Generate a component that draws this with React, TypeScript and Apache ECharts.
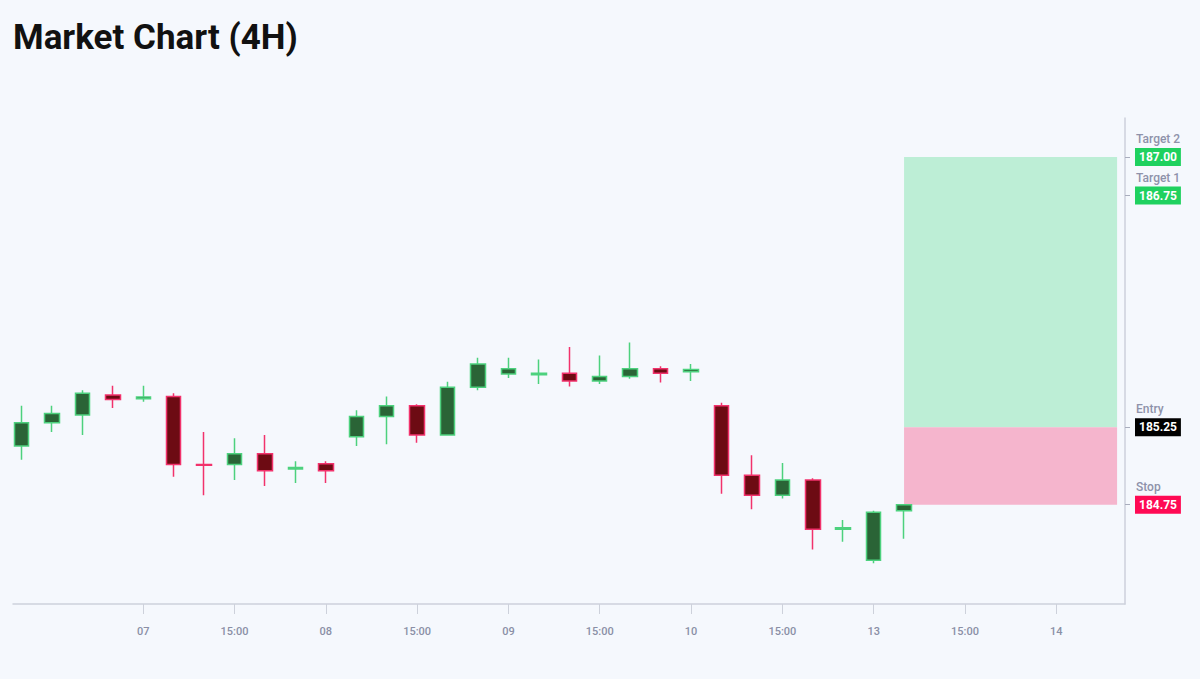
import React, { useEffect, useRef } from "react";
import * as echarts from "echarts";

// 4H candles (index = candle slot, weekend gap removed)
const opens = [185.13, 185.28, 185.33, 185.46, 185.435, 185.45, 185.01, 185.01, 185.08, 184.98, 185.015, 185.19, 185.32, 185.39, 185.2, 185.51, 185.595, 185.59, 185.6, 185.55, 185.58, 185.63, 185.61, 185.39, 184.94, 184.81, 184.91, 184.59, 184.39, 184.71];
const closes = [185.28, 185.34, 185.47, 185.43, 185.446, 185.01, 185.005, 185.08, 184.97, 184.99, 184.97, 185.32, 185.39, 185.2, 185.51, 185.66, 185.63, 185.6, 185.55, 185.58, 185.63, 185.6, 185.625, 184.94, 184.81, 184.91, 184.59, 184.6, 184.7, 184.75];
const lows = [185.04, 185.22, 185.2, 185.375, 185.416, 184.93, 184.81, 184.91, 184.87, 184.89, 184.89, 185.13, 185.14, 185.15, 185.2, 185.49, 185.57, 185.53, 185.515, 185.53, 185.565, 185.54, 185.55, 184.82, 184.72, 184.79, 184.46, 184.51, 184.37, 184.53];
const highs = [185.39, 185.39, 185.49, 185.52, 185.52, 185.47, 185.22, 185.18, 185.2, 185.03, 185.03, 185.36, 185.45, 185.4, 185.545, 185.7, 185.7, 185.69, 185.77, 185.715, 185.8, 185.645, 185.66, 185.41, 185.07, 185.02, 184.92, 184.65, 184.71, 184.75];

const tickIndex = [4, 7, 10, 13, 16, 19, 22, 25, 28, 31, 34];
const tickLabels = ["07", "15:00", "08", "15:00", "09", "15:00", "10", "15:00", "13", "15:00", "14"];

const levelNames = ["Stop", "Entry", "Target 1", "Target 2"];
const levelValues = [184.75, 185.25, 186.75, 187.0];
const levelColors = ["#ff0a54", "#000000", "#1fd15f", "#1fd15f"];

const zoneStart = 29;
const zoneEnd = 36;

const yMin = 184.107;
const yMax = 187.252;

export default function App() {
  const ref = useRef<HTMLDivElement>(null);

  useEffect(() => {
    document.body.style.margin = "0";
    const chart = echarts.init(ref.current!, null, { renderer: "svg" });
    const data = opens.map((o, i) => [i, o, closes[i], lows[i], highs[i]]);
    const findLevel = (v: number) => levelValues.findIndex((lv) => Math.abs(lv - v) < 1e-6);
    const rich: any = {};
    levelColors.forEach((c, i) => {
      rich["b" + i] = {
        color: "#ffffff",
        fontSize: 12,
        fontWeight: "bold",
        fontFamily: "Roboto",
        backgroundColor: c,
        padding: [3, 4, 3, 4],
      };
    });

    chart.setOption({
      animation: false,
      backgroundColor: "#f5f8fd",
      textStyle: { fontFamily: "Roboto" },
      title: {
        text: "Market Chart (4H)",
        left: 13,
        top: 20,
        padding: 0,
        textStyle: { fontSize: 35, fontWeight: "bold", color: "#111111", fontFamily: "Roboto" },
      },
      grid: { left: 13, right: 75, top: 118, bottom: 75 },
      xAxis: {
        type: "value",
        min: -0.28,
        max: 36.26,
        splitLine: { show: false },
        axisLine: { onZero: false, lineStyle: { color: "#cdd1db", width: 1.5 } },
        axisTick: { show: true, length: 10, customValues: tickIndex, lineStyle: { color: "#cdd1db" } },
        axisLabel: {
          customValues: tickIndex,
          margin: 22,
          color: "#8a8fa6",
          fontSize: 11,
          fontWeight: 500,
          formatter: (v: number) => {
            const i = tickIndex.indexOf(Math.round(v));
            return i >= 0 ? tickLabels[i] : "";
          },
        },
      },
      yAxis: [
        {
          type: "value",
          position: "right",
          min: yMin,
          max: yMax,
          splitLine: { show: false },
          axisLine: { show: true, onZero: false, lineStyle: { color: "#cdd1db", width: 1.5 } },
          axisTick: { show: true, length: 5, customValues: levelValues, lineStyle: { color: "#a9adbd" } },
          axisLabel: {
            customValues: levelValues,
            margin: 10,
            hideOverlap: false,
            rich,
            formatter: (v: number) => {
              const i = findLevel(v);
              if (i < 0) return "";
              return `{b${i}|${levelValues[i].toFixed(2)}}`;
            },
          },
        },
        {
          type: "value",
          position: "right",
          min: yMin,
          max: yMax,
          splitLine: { show: false },
          axisLine: { show: false, onZero: false },
          axisTick: { show: false },
          axisLabel: {
            customValues: levelValues,
            margin: 11,
            hideOverlap: false,
            verticalAlign: "bottom",
            lineHeight: 14,
            padding: [0, 0, 11, 0],
            color: "#8e92aa",
            fontSize: 12,
            fontWeight: 500,
            formatter: (v: number) => {
              const i = findLevel(v);
              return i < 0 ? "" : levelNames[i];
            },
          },
        },
      ],
      series: [
        {
          type: "candlestick",
          data,
          encode: { x: 0, y: [1, 2, 3, 4] },
          barWidth: 15,
          itemStyle: {
            color: "#2a6436",
            color0: "#6d0b13",
            borderColor: "#4dd17e",
            borderColor0: "#f2326c",
            borderWidth: 1.5,
          },
          markArea: {
            silent: true,
            data: [
              [
                { xAxis: zoneStart, yAxis: levelValues[3], itemStyle: { color: "#bdeed6" } },
                { xAxis: zoneEnd, yAxis: levelValues[1] },
              ],
              [
                { xAxis: zoneStart, yAxis: levelValues[1], itemStyle: { color: "#f5b5cd" } },
                { xAxis: zoneEnd, yAxis: levelValues[0] },
              ],
            ],
          },
        },
      ],
    });
    return () => chart.dispose();
  }, []);

  return <div ref={ref} style={{ width: 1200, height: 679 }} />;
}
